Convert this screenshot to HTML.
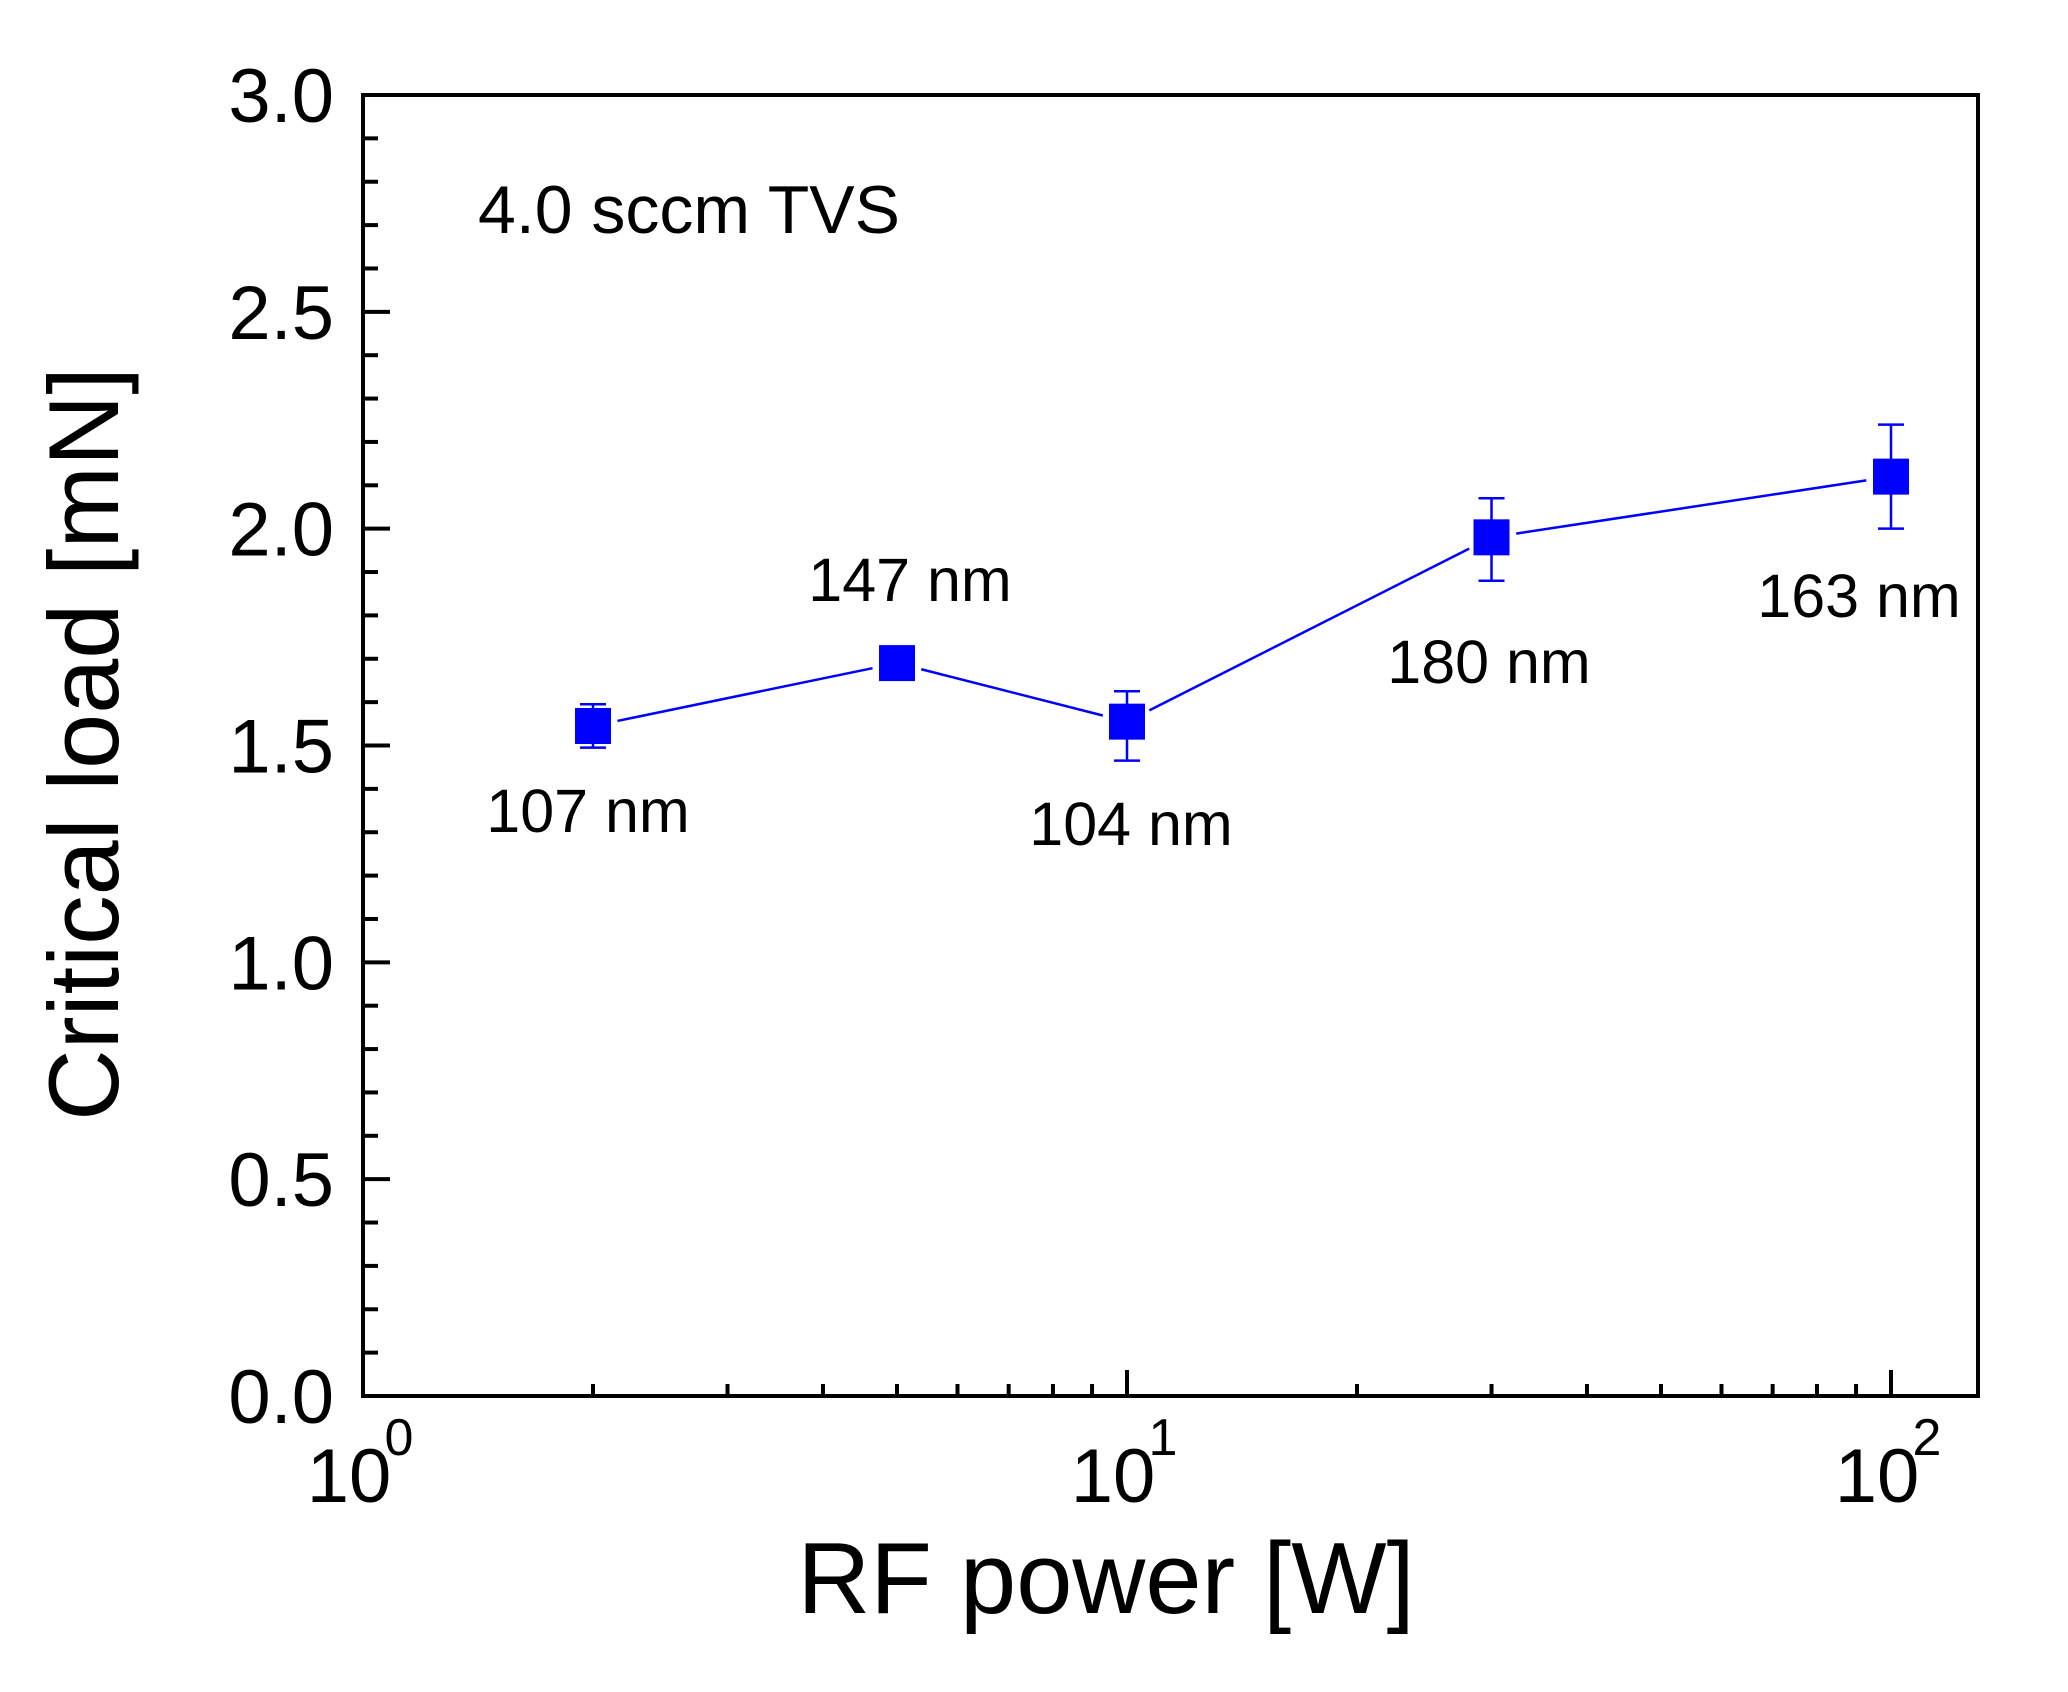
<!DOCTYPE html>
<html><head><meta charset="utf-8"><style>
html,body{margin:0;padding:0;background:#fff;}
svg{display:block;font-family:"Liberation Sans",Arial,sans-serif;}
</style></head><body>
<svg id="chart" width="2068" height="1692" viewBox="0 0 2068 1692" xmlns="http://www.w3.org/2000/svg">
<rect x="0" y="0" width="2068" height="1692" fill="#fff"/>
<g id="axes"></g>
<g id="series"></g>
<text x="478" y="233" font-size="68" fill="#000">4.0 sccm TVS</text>
<text x="1106" y="1613" font-size="101" text-anchor="middle" fill="#000">RF power [W]</text>
<text transform="translate(118,744) rotate(-90)" font-size="99" text-anchor="middle" fill="#000">Critical load [mN]</text>
</svg>
<script>
const powers = [2, 5, 10, 30, 100];
const loads = [1.545, 1.69, 1.555, 1.98, 2.12];
const errUp = [0.05, 0.03, 0.07, 0.09, 0.12];
const errDown = [0.05, 0.03, 0.09, 0.1, 0.12];
const thickLabels = ["107 nm", "147 nm", "104 nm", "180 nm", "163 nm"];
const yTicks = [0.0, 0.5, 1.0, 1.5, 2.0, 2.5, 3.0];
const yTickLabels = ["0.0", "0.5", "1.0", "1.5", "2.0", "2.5", "3.0"];
const xDecades = [0, 1, 2];

const NS = "http://www.w3.org/2000/svg";
const L = 363, R = 1978, T = 95, B = 1396;
const xMin = 0, decadePx = 764;
const yMax = 3.0;
function xs(v){ return L + (Math.log10(v) - xMin) * decadePx; }
function ys(v){ return B - v / yMax * (B - T); }
function mk(tag, attrs, parent){
  const e = document.createElementNS(NS, tag);
  for (const k in attrs) e.setAttribute(k, attrs[k]);
  parent.appendChild(e); return e;
}
const axes = document.getElementById('axes');
const series = document.getElementById('series');

const frame = mk('rect', {x:L, y:T, width:R-L, height:B-T, fill:'none', stroke:'#000', 'stroke-width':4}, axes);



for (let i = 0; i <= 30; i++) {
  const v = i / 10, y = ys(v), major = (i % 5 === 0);
  const t = mk('line', {x1:L, x2:L + (major ? 27 : 15), y1:y, y2:y, stroke:'#000', 'stroke-width':4}, axes);
  
  
}
yTicks.forEach((v, i) => {
  const t = mk('text', {x:334, y:ys(v) + 27, 'font-size':76, 'text-anchor':'end', fill:'#000'}, axes);
  t.textContent = yTickLabels[i];
  
  
});
xDecades.forEach(d => {
  for (let m = 1; m <= 9; m++) {
    const v = m * Math.pow(10, d), x = xs(v);
    if (x > R - 2) continue;
    const major = (m === 1);
    const t = mk('line', {x1:x, x2:x, y1:B, y2:B - (major ? 26 : 12), stroke:'#000', 'stroke-width':4}, axes);
    
    
  }
  const g = mk('text', {x:xs(Math.pow(10, d)) - 14, y:1502, 'font-size':76, 'text-anchor':'middle', fill:'#000'}, axes);
  
  
  g.textContent = '10';
  const s = mk('text', {x:xs(Math.pow(10, d)) + 36, y:1455, 'font-size':52, 'text-anchor':'middle', fill:'#000'}, axes);
  
  
  s.textContent = String(d);
});

const gap = 25;
for (let i = 0; i < powers.length - 1; i++) {
  const x1 = xs(powers[i]), y1 = ys(loads[i]), x2 = xs(powers[i+1]), y2 = ys(loads[i+1]);
  const len = Math.hypot(x2 - x1, y2 - y1), ux = (x2 - x1) / len, uy = (y2 - y1) / len;
  const seg = mk('line', {x1:x1 + ux*gap, y1:y1 + uy*gap, x2:x2 - ux*gap, y2:y2 - uy*gap, stroke:'#0000ff', 'stroke-width':2.5}, series);
  
  
}
const labelPos = [[588, 832], [910, 601], [1131, 845], [1489, 683], [1859, 617]];
powers.forEach((p, i) => {
  const x = xs(p), y = ys(loads[i]), yt = ys(loads[i] + errUp[i]), yb = ys(loads[i] - errDown[i]);
  const eb = mk('path', {d:`M${x},${yt}V${yb}M${x-13},${yt}H${x+13}M${x-13},${yb}H${x+13}`, stroke:'#0000ff', 'stroke-width':2.5, fill:'none'}, series);
  
  
  const m = mk('rect', {x:x - 18, y:y - 18, width:36, height:36, fill:'#0000ff'}, series);
  
  
  const t = mk('text', {x:labelPos[i][0], y:labelPos[i][1], 'font-size':61, 'text-anchor':'middle', fill:'#000'}, series);
  
  
  t.textContent = thickLabels[i];
});
</script>
</body></html>
